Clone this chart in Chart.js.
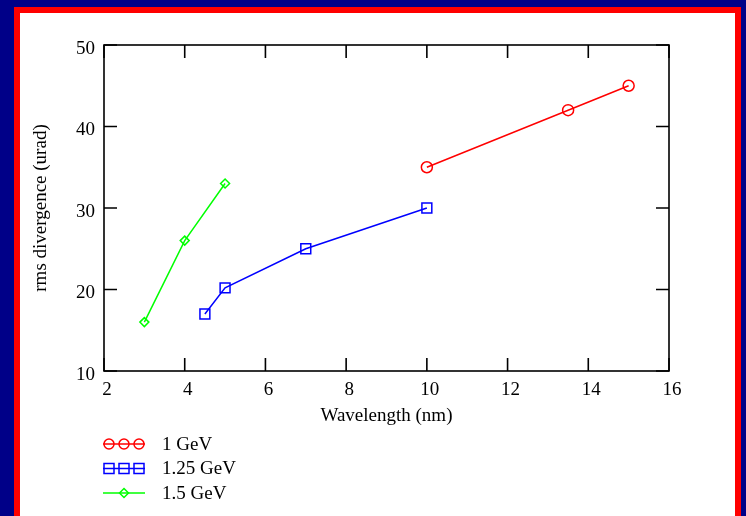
<!DOCTYPE html>
<html lang="en">
<head>
<meta charset="UTF-8">
<title>rms divergence</title>
<script src="https://cdn.jsdelivr.net/npm/chart.js"></script>
<style>
  body { margin: 0; width: 746px; height: 516px; overflow: hidden; background: #000088; position: relative; }
  #moldura { position: absolute; left: 14px; top: 7px; width: 727px; height: 560px; background: #ff0000; }
  #fundo { position: absolute; left: 20px; top: 13px; width: 715px; height: 560px; background: #ffffff; }
  #grafico { position: absolute; left: 0; top: 0; }
</style>
</head>
<body>
<div id="moldura"></div>
<div id="fundo"></div>
<canvas id="grafico" width="746" height="516"></canvas>

<script>
  // dados
  var nomes = ['1 GeV', '1.25 GeV', '1.5 GeV'];
  var xVermelho = [10, 13.5, 15];
  var yVermelho = [35, 42, 45];
  var xAzul = [4.5, 5, 7, 10];
  var yAzul = [17, 20.2, 25, 30];
  var xVerde = [3, 4, 5];
  var yVerde = [16, 26, 33];
  var ticksX = [2, 4, 6, 8, 10, 12, 14, 16];
  var ticksY = [10, 20, 30, 40, 50];

  var fonte = 'Liberation Serif, Times New Roman, serif';

  function pontos(xs, ys) {
    var lista = [];
    for (var i = 0; i < xs.length; i++) {
      lista.push({ x: xs[i], y: ys[i] });
    }
    return lista;
  }

  function marcador(ctx, estilo, x, y, r) {
    ctx.beginPath();
    if (estilo == 'circle') {
      ctx.arc(x, y, r, 0, Math.PI * 2);
    } else if (estilo == 'rect') {
      ctx.rect(x - r, y - r, 2 * r, 2 * r);
    } else {
      ctx.moveTo(x, y - r);
      ctx.lineTo(x + r, y);
      ctx.lineTo(x, y + r);
      ctx.lineTo(x - r, y);
      ctx.closePath();
    }
    ctx.stroke();
  }

  // moldura do grafico e tracinhos para dentro, nos 4 lados
  var moldura = {
    id: 'moldura',
    afterDatasetsDraw: function (chart) {
      var ctx = chart.ctx;
      var a = chart.chartArea;
      var sx = chart.scales.x, sy = chart.scales.y;
      var t = 13;
      ctx.save();
      ctx.strokeStyle = '#000';
      ctx.lineWidth = 1.6;
      ctx.strokeRect(a.left, a.top, a.right - a.left, a.bottom - a.top);
      ctx.beginPath();
      sx.ticks.forEach(function (tk) {
        var px = sx.getPixelForValue(tk.value);
        ctx.moveTo(px, a.bottom); ctx.lineTo(px, a.bottom - t);
        ctx.moveTo(px, a.top); ctx.lineTo(px, a.top + t);
      });
      sy.ticks.forEach(function (tk) {
        var py = sy.getPixelForValue(tk.value);
        ctx.moveTo(a.left, py); ctx.lineTo(a.left + t, py);
        ctx.moveTo(a.right, py); ctx.lineTo(a.right - t, py);
      });
      ctx.stroke();
      ctx.restore();
    }
  };

  // legenda embaixo, do jeito do original
  var legenda = {
    id: 'legenda',
    afterDraw: function (chart) {
      var ctx = chart.ctx;
      var x0 = 103, x1 = 145, yBase = 444, passo = 24.5;
      ctx.save();
      chart.data.datasets.forEach(function (ds, i) {
        var y = yBase + i * passo;
        ctx.strokeStyle = ds.borderColor;
        ctx.lineWidth = 1.5;
        ctx.beginPath();
        ctx.moveTo(x0, y); ctx.lineTo(x1, y);
        ctx.stroke();
        if (ds.pointStyle == 'rectRot') {
          marcador(ctx, 'diamond', (x0 + x1) / 2, y, 4.5);
        } else {
          var r = 5;
          [x0 + r + 1, (x0 + x1) / 2, x1 - r - 1].forEach(function (cx) {
            marcador(ctx, ds.pointStyle, cx, y, r);
          });
        }
        ctx.fillStyle = '#000';
        ctx.font = '19px ' + fonte;
        ctx.textBaseline = 'middle';
        ctx.fillText(ds.label, 162, y + 1);
      });
      ctx.restore();
    }
  };

  var dados = {
    datasets: [{
      label: nomes[0],
      data: pontos(xVermelho, yVermelho),
      borderColor: '#ff0000',
      backgroundColor: 'rgba(0,0,0,0)',
      borderWidth: 1.5,
      pointStyle: 'circle',
      pointRadius: 5.5,
      pointBorderWidth: 1.5
    }, {
      label: nomes[1],
      data: pontos(xAzul, yAzul),
      borderColor: '#0000ff',
      backgroundColor: 'rgba(0,0,0,0)',
      borderWidth: 1.5,
      pointStyle: 'rect',
      pointRadius: 7,
      pointBorderWidth: 1.5
    }, {
      label: nomes[2],
      data: pontos(xVerde, yVerde),
      borderColor: '#00ff00',
      backgroundColor: 'rgba(0,0,0,0)',
      borderWidth: 1.5,
      pointStyle: 'rectRot',
      pointRadius: 4.5,
      pointBorderWidth: 1.5
    }]
  };

  const config = {
    type: 'line',
    data: dados,
    plugins: [moldura, legenda],
    options: {
      responsive: false,
      animation: false,
      showLine: true,
      layout: { padding: { top: 45, right: 77, bottom: 88, left: 0 } },
      plugins: { legend: { display: false }, tooltip: { enabled: false } },
      scales: {
        x: {
          type: 'linear',
          min: ticksX[0],
          max: ticksX[ticksX.length - 1],
          afterBuildTicks: function (s) { s.ticks = ticksX.map(function (v) { return { value: v }; }); },
          afterFit: function (s) { s.height = 57; },
          grid: { display: false, drawTicks: false },
          border: { display: false },
          ticks: { color: '#000', font: { family: fonte, size: 19 }, padding: 8, maxRotation: 0, labelOffset: 3 },
          title: { display: true, text: 'Wavelength (nm)', color: '#000', font: { family: fonte, size: 19 }, padding: { top: 0, bottom: 1 } }
        },
        y: {
          type: 'linear',
          min: ticksY[0],
          max: ticksY[ticksY.length - 1],
          afterBuildTicks: function (s) { s.ticks = ticksY.map(function (v) { return { value: v }; }); },
          afterFit: function (s) { s.width = 104; },
          grid: { display: false, drawTicks: false },
          border: { display: false },
          ticks: { color: '#000', font: { family: fonte, size: 19 }, padding: 9, labelOffset: 4 },
          title: { display: true, text: 'rms divergence (urad)', color: '#000', font: { family: fonte, size: 19 }, padding: { top: 30, bottom: 0 } }
        }
      }
    }
  };

  let meuGrafico = new Chart(document.getElementById('grafico'), config);
</script>
</body>
</html>
